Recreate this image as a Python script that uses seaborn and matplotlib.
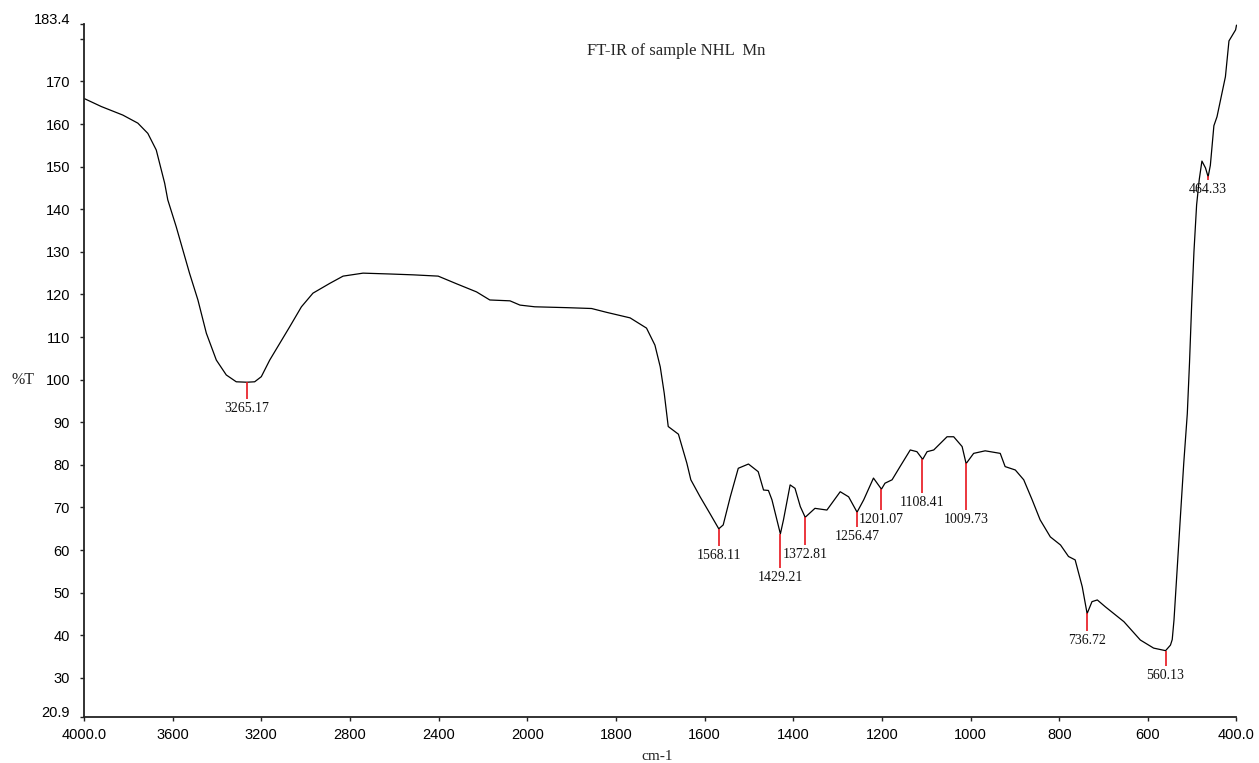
import numpy as np
import pandas as pd
import matplotlib
matplotlib.use("Agg")
import matplotlib.pyplot as plt
import matplotlib.transforms as mtransforms
import seaborn as sns

# FT-IR spectrum (wavenumber in cm-1, transmittance in %T)
wavenumber = [
    4000, 3922, 3825, 3757, 3712, 3674, 3636, 3622, 3584, 3524, 3486, 3448,
    3403, 3358, 3313, 3265, 3230, 3200, 3162, 3117, 3072, 3019, 2967, 2891,
    2831, 2741, 2620, 2515, 2402, 2319, 2229, 2169, 2078, 2033, 1983, 1911,
    1855, 1821, 1768, 1731, 1712, 1700, 1691, 1682, 1659, 1640, 1631, 1610,
    1588, 1568, 1558, 1542, 1524, 1501, 1479, 1467, 1456, 1448, 1429, 1422,
    1407, 1396, 1384, 1373, 1351, 1324, 1294, 1275, 1256, 1241, 1219, 1201,
    1193, 1177, 1159, 1136, 1121, 1108, 1098, 1083, 1053, 1038, 1019, 1010,
    993, 967, 933, 922, 899, 880, 861, 843, 820, 797, 779, 764, 748, 737,
    726, 714, 696, 654, 617, 587, 560, 549, 545, 541, 534, 527, 519, 511,
    506, 501, 496, 490, 484, 478, 470, 464, 459, 451, 444, 425, 417,
    402, 400,
]
transmittance = [
    166.0, 164.1, 162.1, 160.2, 157.8, 153.9, 146.1, 142.2, 135.9, 125.0, 118.7, 110.9,
    104.6, 101.1, 99.5, 99.4, 99.5, 100.7, 104.6, 108.5, 112.4, 117.1, 120.3, 122.6,
    124.3, 125.0, 124.8, 124.6, 124.3, 122.5, 120.6, 118.7, 118.5, 117.5, 117.1, 116.9,
    116.7, 115.8, 114.5, 112.1, 108.1, 103.0, 96.8, 89.0, 87.2, 80.4, 76.5, 72.5,
    68.6, 65.0, 65.9, 72.5, 79.2, 80.2, 78.4, 74.1, 74.0, 71.8, 63.8, 67.1,
    75.3, 74.5, 70.2, 67.7, 69.8, 69.4, 73.7, 72.5, 68.9, 71.8, 76.9, 74.3,
    75.7, 76.5, 79.6, 83.5, 83.1, 81.3, 83.1, 83.5, 86.6, 86.6, 84.3, 80.3,
    82.7, 83.3, 82.7, 79.6, 78.8, 76.5, 71.8, 67.1, 63.1, 61.2, 58.5, 57.7, 51.4, 45.1,
    47.9, 48.3, 46.7, 43.2, 38.9, 37.0, 36.4, 37.7, 39.0, 43.6, 55.3, 67.1, 80.4, 92.0,
    104.0, 118.0, 130.0, 141.0, 147.0, 151.3, 149.7, 147.6, 150.3, 159.6, 161.7, 171.1, 179.5,
    182.1, 183.2,
]

# Labelled absorption bands and the lower end of each marker
peak_positions = [3265.17, 1568.11, 1429.21, 1372.81, 1256.47, 1201.07,
                  1108.41, 1009.73, 736.72, 560.13, 464.33]
peak_line_ends = [95.5, 61.0, 55.8, 61.2, 65.4, 69.4, 73.4, 69.4, 41.0, 32.8, 146.9]

x_ticks = [4000, 3600, 3200, 2800, 2400, 2000, 1800, 1600, 1400, 1200, 1000, 800, 600, 400]
x_tick_labels = ["4000.0", "3600", "3200", "2800", "2400", "2000", "1800", "1600",
                 "1400", "1200", "1000", "800", "600", "400.0"]
y_ticks = [20.9, 30, 40, 50, 60, 70, 80, 90, 100, 110, 120, 130, 140, 150, 160, 170, 180, 183.4]
y_tick_labels = ["20.9", "30", "40", "50", "60", "70", "80", "90", "100", "110", "120",
                 "130", "140", "150", "160", "170", "", "183.4"]

sns.set_style("ticks")
plt.rcParams["font.family"] = ["Liberation Sans", "DejaVu Sans"]

fig = plt.figure(figsize=(12.59, 7.63), dpi=100)
ax = fig.add_axes([84 / 1259, 1 - 716.7 / 763, (1236.5 - 84) / 1259, (716.7 - 24.3) / 763])

df = pd.DataFrame({"wavenumber": wavenumber, "T": transmittance})
sns.lineplot(data=df, x="wavenumber", y="T", sort=False, estimator=None,
             color="black", linewidth=0.9, ax=ax)


# Split abscissa: the 4000-2000 region is compressed two-fold
def _fwd(x):
    x = np.asarray(x, dtype=float)
    return np.where(x > 2000, 2000 + (x - 2000) / 2.0, x)


def _inv(y):
    y = np.asarray(y, dtype=float)
    return np.where(y > 2000, 2000 + (y - 2000) * 2.0, y)


ax.set_xscale("function", functions=(_fwd, _inv))
ax.set_xlim(4000, 400)
ax.set_ylim(20.9, 183.4)

# Band markers
wn_sorted = np.array(wavenumber[::-1], dtype=float)
t_sorted = np.array(transmittance[::-1], dtype=float)
for pos, end in zip(peak_positions, peak_line_ends):
    top = float(np.interp(pos, wn_sorted, t_sorted))
    ax.vlines(pos, end, top, colors="#e8141c", linewidth=1.2, zorder=3)
    ax.text(pos, end - 2.3, f"{pos:.2f}", ha="center", va="center",
            fontsize=10, family=["Liberation Serif", "DejaVu Serif"], color="#111111")

ax.set_xticks(x_ticks)
ax.set_xticklabels(x_tick_labels)
ax.set_yticks(y_ticks)
ax.set_yticklabels(y_tick_labels)
ax.minorticks_off()
ax.tick_params(axis="both", direction="out", length=3, width=1.0, colors="#222222",
               labelsize=10.5, labelcolor="black")
ax.tick_params(axis="y", pad=7)
ax.tick_params(axis="x", pad=5)

for side in ("top", "right"):
    ax.spines[side].set_visible(False)
for side in ("left", "bottom"):
    ax.spines[side].set_linewidth(1.3)
    ax.spines[side].set_color("#222222")

ax.set_xlabel("")
ax.set_ylabel("")

# Nudge the end labels of the ordinate upward
for lbl, dy in ((ax.get_yticklabels()[0], 5), (ax.get_yticklabels()[-1], 6)):
    lbl.set_transform(lbl.get_transform() +
                      mtransforms.ScaledTranslation(0, dy / 100, fig.dpi_scale_trans))

serif = ["Liberation Serif", "DejaVu Serif"]
fig.text(676 / 1259, 1 - 50.7 / 763, "FT-IR of sample NHL  Mn", ha="center", va="center",
         fontsize=12, family=serif)
fig.text(23 / 1259, 1 - 380 / 763, "%T", ha="center", va="center", fontsize=11.5, family=serif)
fig.text(657.5 / 1259, 1 - 756.7 / 763, "cm-1", ha="center", va="center", fontsize=11, family=serif)

fig.savefig("out.png", dpi=100, facecolor="white")
